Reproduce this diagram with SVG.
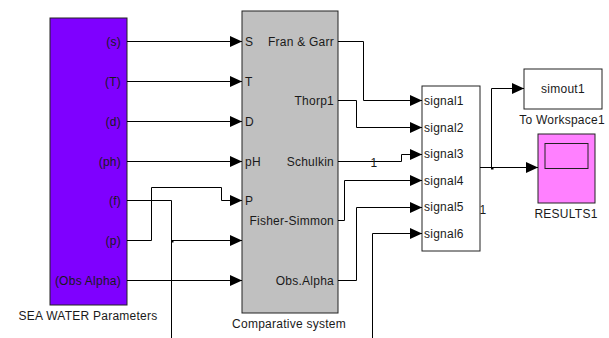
<svg xmlns="http://www.w3.org/2000/svg" width="609" height="338" viewBox="0 0 609 338">
<defs>
<marker id="ah" markerUnits="userSpaceOnUse" markerWidth="13" markerHeight="12" refX="12" refY="5.5" orient="auto" viewBox="0 0 13 12">
<path d="M0,0 L12,5.5 L0,11 z" fill="#000"/>
</marker>
<style>
text{font-family:"Liberation Sans",Arial,sans-serif;font-size:12px;fill:#1a1a1a;letter-spacing:0.25px}
.r{text-anchor:end}
.c{text-anchor:middle}
.w{fill:none;stroke:#000;stroke-width:1}
.a{marker-end:url(#ah)}
</style>
</defs>
<rect width="609" height="338" fill="#fff"/>
<g id="sea-water">
<rect x="50" y="18" width="77" height="287" fill="#7f00ff" stroke="#222" stroke-width="1"/>
<text x="121" y="45.5" class="r">(s)</text>
<text x="121" y="85.5" class="r">(T)</text>
<text x="121" y="125.5" class="r">(d)</text>
<text x="121" y="165.5" class="r">(ph)</text>
<text x="121" y="204.5" class="r">(f)</text>
<text x="121" y="244.5" class="r">(p)</text>
<text x="121" y="284.5" class="r">(Obs Alpha)</text>
<text x="88" y="320" class="c">SEA WATER Parameters</text>
</g>
<g id="comparative">
<rect x="242" y="11" width="96" height="302" fill="#c0c0c0" stroke="#222" stroke-width="1"/>
<text x="245" y="45.5">S</text>
<text x="245" y="85.5">T</text>
<text x="245" y="125.5">D</text>
<text x="245" y="165.5">pH</text>
<text x="245" y="204.5">P</text>
<text x="334" y="45.5" class="r">Fran &amp; Garr</text>
<text x="334" y="104.5" class="r">Thorp1</text>
<text x="334" y="166" class="r">Schulkin</text>
<text x="334" y="224.5" class="r">Fisher-Simmon</text>
<text x="334" y="284.5" class="r">Obs.Alpha</text>
<text x="289" y="328" class="c">Comparative system</text>
</g>
<g id="mux">
<rect x="422" y="86" width="58" height="165" fill="#fff" stroke="#222" stroke-width="1"/>
<text x="424" y="104.5">signal1</text>
<text x="424" y="131.5">signal2</text>
<text x="424" y="158">signal3</text>
<text x="424" y="185">signal4</text>
<text x="424" y="211">signal5</text>
<text x="424" y="237.5">signal6</text>
</g>
<g id="to-workspace">
<rect x="524" y="69" width="78" height="40" fill="#fff" stroke="#222" stroke-width="1"/>
<text x="563" y="92.5" class="c">simout1</text>
<text x="562" y="123.5" class="c">To Workspace1</text>
</g>
<g id="results">
<rect x="538" y="134" width="57" height="69" fill="#ff80ff" stroke="#222" stroke-width="1"/>
<rect x="545" y="143.5" width="43" height="25" fill="#ff80ff" stroke="#222" stroke-width="1"/>
<text x="566" y="217.5" class="c">RESULTS1</text>
</g>
<g id="connectors">
<path class="w a" d="M127,41.5 H242"/>
<path class="w a" d="M127,81.5 H242"/>
<path class="w a" d="M127,121.5 H242"/>
<path class="w a" d="M127,161.5 H242"/>
<path class="w a" d="M127,240.5 H151.5 V187.5 H221.5 V200.5 H242"/>
<path class="w" d="M127,200.5 H171.5 V338"/>
<path class="w a" d="M171.5,240.5 H242"/>
<rect x="171" y="240" width="2.5" height="2.5" fill="#000"/>
<path class="w a" d="M127,280.5 H242"/>
<path class="w a" d="M338,41.5 H363.5 V100.5 H422"/>
<path class="w a" d="M338,100.5 H356.5 V127.5 H422"/>
<path class="w a" d="M338,161.5 H401.5 V154.5 H422"/>
<text x="374" y="167" class="c">1</text>
<path class="w a" d="M338,220.5 H344.5 V180.5 H422"/>
<path class="w a" d="M338,280.5 H356.5 V207.5 H422"/>
<path class="w a" d="M372.5,338 V233.5 H422"/>
<path class="w a" d="M480,167.5 H538"/>
<path class="w a" d="M491.5,167.5 V88.5 H524"/>
<rect x="491" y="167" width="2.5" height="2.5" fill="#000"/>
<text x="483" y="214" class="c">1</text>
</g>
</svg>
